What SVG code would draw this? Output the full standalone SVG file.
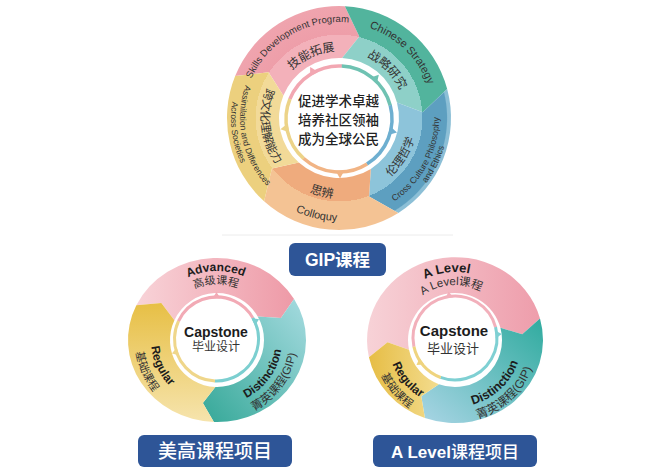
<svg xmlns="http://www.w3.org/2000/svg" width="661" height="473" viewBox="0 0 661 473">
<style>
.en{font-family:"Liberation Sans","Noto Sans CJK SC",sans-serif;fill:#333}
.cn{font-family:"Noto Sans CJK SC","Liberation Sans",sans-serif;fill:#333}
.b{font-weight:bold;fill:#1c1c1c}
.ctr{font-family:"Noto Sans CJK SC","Liberation Sans",sans-serif;font-weight:500;fill:#222;font-size:13.5px}
.ring{fill:none;stroke-width:3.5}
.ring2{fill:none;stroke-width:3}
.lbl{fill:#2e5597}
.lt{fill:#fff;font-family:"Liberation Sans","Noto Sans CJK SC",sans-serif;text-anchor:middle}
</style>
<defs>
<radialGradient id="gPink" gradientUnits="userSpaceOnUse" cx="339" cy="118" r="112"><stop offset="0" stop-color="#f3b1ba"/><stop offset="0.745" stop-color="#f3b1ba"/><stop offset="0.745" stop-color="#ee9ea9"/><stop offset="1" stop-color="#efa4ae"/></radialGradient>
<radialGradient id="gTeal" gradientUnits="userSpaceOnUse" cx="339" cy="118" r="112"><stop offset="0" stop-color="#8ed0c8"/><stop offset="0.745" stop-color="#8ed0c8"/><stop offset="0.745" stop-color="#52b49d"/><stop offset="1" stop-color="#52b49d"/></radialGradient>
<radialGradient id="gBlue" gradientUnits="userSpaceOnUse" cx="339" cy="118" r="112"><stop offset="0" stop-color="#8dc4da"/><stop offset="0.745" stop-color="#8dc4da"/><stop offset="0.745" stop-color="#5d9fc0"/><stop offset="0.96" stop-color="#5d9fc0"/><stop offset="0.97" stop-color="#8cbfd6"/><stop offset="1" stop-color="#8cbfd6"/></radialGradient>
<radialGradient id="gOrange" gradientUnits="userSpaceOnUse" cx="339" cy="118" r="112"><stop offset="0" stop-color="#efab7d"/><stop offset="0.745" stop-color="#efab7d"/><stop offset="0.745" stop-color="#f4c394"/><stop offset="1" stop-color="#f4c394"/></radialGradient>
<radialGradient id="gYellow" gradientUnits="userSpaceOnUse" cx="339" cy="118" r="112"><stop offset="0" stop-color="#f2da98"/><stop offset="0.745" stop-color="#f2da98"/><stop offset="0.745" stop-color="#ecd07e"/><stop offset="1" stop-color="#ecd07e"/></radialGradient>
<linearGradient id="mPink" x1="0" y1="0" x2="1" y2="0"><stop offset="0" stop-color="#f8d3d8"/><stop offset="1" stop-color="#ee9aa7"/></linearGradient>
<linearGradient id="mTeal" x1="0" y1="1" x2="1" y2="0"><stop offset="0" stop-color="#35a898"/><stop offset="1" stop-color="#a6dbe0"/></linearGradient>
<linearGradient id="mYellow" x1="0" y1="0" x2="0" y2="1"><stop offset="0" stop-color="#e7bf45"/><stop offset="1" stop-color="#f6e4ad"/></linearGradient>
<linearGradient id="aPink" x1="0" y1="0" x2="1" y2="0"><stop offset="0" stop-color="#f7d2d7"/><stop offset="1" stop-color="#ee9dab"/></linearGradient>
<linearGradient id="aTeal" x1="0" y1="1" x2="1" y2="0"><stop offset="0" stop-color="#a9d5e5"/><stop offset="1" stop-color="#30ab9f"/></linearGradient>
<linearGradient id="aYellow" x1="0" y1="0" x2="1" y2="0"><stop offset="0" stop-color="#e6bd45"/><stop offset="1" stop-color="#f3dc8e"/></linearGradient>
<path id="tp1" d="M 248.79,150.83 A 96 96 0 0 1 412.54,56.29"/>
<path id="tp2" d="M 283.16,41.14 A 95 95 0 0 1 417.76,171.12"/>
<path id="tp3" d="M 308.10,213.11 A 100 100 0 0 0 400.57,39.20"/>
<path id="tp4" d="M 308.96,222.78 A 109 109 0 0 0 403.07,29.82"/>
<path id="tp5" d="M 301.91,26.21 A 99 99 0 0 0 342.46,216.94"/>
<path id="tp6" d="M 305.63,15.28 A 108 108 0 0 0 335.23,225.94"/>
<path id="tp7" d="M 236.14,112.61 A 103 103 0 0 0 433.81,158.24"/>
<path id="tp8" d="M 273.99,134.21 A 67 67 0 0 1 394.54,80.53"/>
<path id="tp9" d="M 300.57,63.11 A 67 67 0 0 1 393.89,156.43"/>
<path id="tp10" d="M 309.78,190.32 A 78 78 0 0 0 391.19,60.04"/>
<path id="tp11" d="M 259.11,113.82 A 80 80 0 0 0 412.64,149.26"/>
<path id="tp12" d="M 316.19,43.41 A 78 78 0 0 0 334.92,195.89"/>
<path id="pb1" d="M 148.85,329.21 A 69 69 0 0 1 284.73,326.83"/>
<path id="pb2" d="M 161.69,331.24 A 56 56 0 0 1 271.97,329.32"/>
<path id="pb3" d="M 179.14,285.93 A 66 66 0 0 0 234.08,403.75"/>
<path id="pb4" d="M 171.15,272.02 A 82 82 0 0 0 236.84,419.56"/>
<path id="pb5" d="M 188.50,398.42 A 65 65 0 0 0 263.75,294.84"/>
<path id="pb6" d="M 181.93,411.90 A 80 80 0 0 0 274.54,284.42"/>
<path id="pc1" d="M 387.10,336.44 A 68 68 0 0 1 520.03,320.12"/>
<path id="pc2" d="M 400.30,334.25 A 55 55 0 0 1 508.37,326.70"/>
<path id="pc3" d="M 403.68,296.93 A 67 67 0 0 0 488.50,398.02"/>
<path id="pc4" d="M 391.28,288.40 A 82 82 0 0 0 497.23,410.29"/>
<path id="pc5" d="M 414.68,393.51 A 67 67 0 0 0 511.19,303.51"/>
<path id="pc6" d="M 405.65,405.49 A 82 82 0 0 0 523.77,295.34"/>
</defs>
<rect width="661" height="473" fill="#fff"/>
<line x1="222" y1="235" x2="453" y2="235" stroke="#ececec" stroke-width="1"/>

<g id="node-gip-circle">
<path fill="url(#gPink)" d="M 235.15,76.04 A 112 112 0 0 1 344.86,6.16 L 359.32,36.49 L 342.14,58.08 A 60 60 0 0 0 283.37,95.52 L 268.55,72.25 Z"/>
<path fill="url(#gTeal)" d="M 344.86,6.16 A 112 112 0 0 1 447.18,89.01 L 422.80,112.14 L 396.95,102.47 A 60 60 0 0 0 342.14,58.08 L 359.32,36.49 Z"/>
<path fill="url(#gBlue)" d="M 447.18,89.01 A 112 112 0 0 1 398.35,212.98 L 369.11,196.42 L 370.79,168.88 A 60 60 0 0 0 396.95,102.47 L 422.80,112.14 Z"/>
<path fill="url(#gOrange)" d="M 398.35,212.98 A 112 112 0 0 1 264.06,201.23 L 271.92,168.55 L 298.85,162.59 A 60 60 0 0 0 370.79,168.88 L 369.11,196.42 Z"/>
<path fill="url(#gYellow)" d="M 264.06,201.23 A 112 112 0 0 1 235.15,76.04 L 268.55,72.25 L 283.37,95.52 A 60 60 0 0 0 298.85,162.59 L 271.92,168.55 Z"/>
<circle cx="339" cy="119" r="53" class="ring" stroke="#f2a7b2" stroke-dasharray="65.68 333" transform="rotate(202 339 119)"/>
<circle cx="339" cy="119" r="53" class="ring" stroke="#6fc2b2" stroke-dasharray="66.6 333" transform="rotate(-87 339 119)"/>
<circle cx="339" cy="119" r="53" class="ring" stroke="#6eafd0" stroke-dasharray="67.53 333" transform="rotate(-15 339 119)"/>
<circle cx="339" cy="119" r="53" class="ring" stroke="#f1b485" stroke-dasharray="68.45 333" transform="rotate(58 339 119)"/>
<circle cx="339" cy="119" r="53" class="ring" stroke="#ecd388" stroke-dasharray="64.75 333" transform="rotate(132 339 119)"/>
<polygon points="334.5,67.5 343.5,67.5 339,59.5" fill="#f2a7b2" transform="rotate(331 339 119)"/>
<polygon points="334.5,67.5 343.5,67.5 339,59.5" fill="#6fc2b2" transform="rotate(42 339 119)"/>
<polygon points="334.5,67.5 343.5,67.5 339,59.5" fill="#6eafd0" transform="rotate(103 339 119)"/>
<polygon points="334.5,67.5 343.5,67.5 339,59.5" fill="#f1b485" transform="rotate(179 339 119)"/>
<polygon points="334.5,67.5 343.5,67.5 339,59.5" fill="#ecd388" transform="rotate(260 339 119)"/>
<text class="en" font-size="9.5" text-anchor="middle"><textPath href="#tp1" startOffset="50%">Skills Development Program</textPath></text>
<text class="en" font-size="11" text-anchor="middle"><textPath href="#tp2" startOffset="50%">Chinese Strategy</textPath></text>
<text class="en" font-size="8.8" text-anchor="middle"><textPath href="#tp3" startOffset="50%">Cross Culture Philosophy</textPath></text>
<text class="en" font-size="8.8" text-anchor="middle"><textPath href="#tp4" startOffset="50%">and Ethics</textPath></text>
<text class="en" font-size="8.6" text-anchor="middle"><textPath href="#tp5" startOffset="50%">Assimilation and Differences</textPath></text>
<text class="en" font-size="8.6" text-anchor="middle"><textPath href="#tp6" startOffset="50%">Across Societies</textPath></text>
<text class="en" font-size="11" text-anchor="middle"><textPath href="#tp7" startOffset="50%">Colloquy</textPath></text>
<text class="cn" font-size="12" text-anchor="middle"><textPath href="#tp8" startOffset="50%">技能拓展</textPath></text>
<text class="cn" font-size="12" text-anchor="middle"><textPath href="#tp9" startOffset="50%">战略研究</textPath></text>
<text class="cn" font-size="11.5" text-anchor="middle"><textPath href="#tp10" startOffset="50%">伦理哲学</textPath></text>
<text class="cn" font-size="12" text-anchor="middle"><textPath href="#tp11" startOffset="50%">思辨</textPath></text>
<text class="cn" font-size="11.5" text-anchor="middle"><textPath href="#tp12" startOffset="50%">跨文化理解能力</textPath></text>
<text class="ctr" x="338.5" y="106" text-anchor="middle">促进学术卓越</text>
<text class="ctr" x="338.5" y="125" text-anchor="middle">培养社区领袖</text>
<text class="ctr" x="338.5" y="144" text-anchor="middle">成为全球公民</text>
</g>

<g id="node-gip-label">
<rect x="289" y="243" width="97" height="33" rx="6" class="lbl"/>
<text class="lt" x="337.5" y="265.5" font-size="17.5" font-weight="bold">GIP课程</text>
</g>

<g id="node-us-circle">
<path fill="url(#mPink)" d="M 136.34,305.35 A 89 82 0 0 1 294.07,299.00 L 280.90,317.94 L 257.70,316.50 A 47 47 0 0 0 174.40,320.14 L 161.30,303.00 Z"/>
<path fill="url(#mTeal)" d="M 294.07,299.00 A 89 82 0 0 1 213.89,421.95 L 202.86,403.09 L 215.36,386.97 A 47 47 0 0 0 257.70,316.50 L 280.90,317.94 Z"/>
<path fill="url(#mYellow)" d="M 213.89,421.95 A 89 82 0 0 1 136.34,305.35 L 161.30,303.00 L 174.40,320.14 A 47 47 0 0 0 215.36,386.97 L 202.86,403.09 Z"/>
<circle cx="216.5" cy="339" r="42" class="ring2" stroke="#f2aab5" stroke-dasharray="91.63 264" transform="rotate(205 216.5 339)"/>
<circle cx="216.5" cy="339" r="42" class="ring2" stroke="#7ccfd0" stroke-dasharray="89.43 264" transform="rotate(-30 216.5 339)"/>
<circle cx="216.5" cy="339" r="42" class="ring2" stroke="#efd68a" stroke-dasharray="82.83 264" transform="rotate(92 216.5 339)"/>
<polygon points="212.5,298.5 220.5,298.5 216.5,292" fill="#f2aab5" transform="rotate(0 216.5 339)"/>
<polygon points="212.5,298.5 220.5,298.5 216.5,292" fill="#7ccfd0" transform="rotate(65 216.5 339)"/>
<polygon points="212.5,298.5 220.5,298.5 216.5,292" fill="#efd68a" transform="rotate(252 216.5 339)"/>
<text class="en b" font-size="12" text-anchor="middle"><textPath href="#pb1" startOffset="50%">Advanced</textPath></text>
<text class="cn" font-size="11" text-anchor="middle"><textPath href="#pb2" startOffset="50%">高级课程</textPath></text>
<text class="en b" font-size="12" text-anchor="middle"><textPath href="#pb3" startOffset="50%">Regular</textPath></text>
<text class="cn" font-size="11" text-anchor="middle"><textPath href="#pb4" startOffset="50%">基础课程</textPath></text>
<text class="en b" font-size="12" text-anchor="middle"><textPath href="#pb5" startOffset="50%">Distinction</textPath></text>
<text class="en" font-size="11.5" text-anchor="middle"><textPath href="#pb6" startOffset="50%">菁英课程(GIP)</textPath></text>
<text class="en b" x="216" y="337" font-size="14" text-anchor="middle">Capstone</text>
<text class="cn" x="216" y="351" font-size="12" fill="#222" text-anchor="middle">毕业设计</text>
</g>

<g id="node-us-label">
<rect x="138" y="435" width="154" height="32" rx="6" class="lbl"/>
<text class="lt" x="215" y="458" font-size="19" font-weight="500">美高课程项目</text>
</g>

<g id="node-alevel-circle">
<path fill="url(#aPink)" d="M 368.93,357.26 A 88 83 0 0 1 540.00,318.52 L 522.24,334.33 L 500.40,327.84 A 47 47 0 0 0 409.03,349.77 L 387.54,342.27 Z"/>
<path fill="url(#aTeal)" d="M 540.00,318.52 A 88 83 0 0 1 424.90,418.00 L 421.25,396.29 L 438.93,384.17 A 47 47 0 0 0 500.40,327.84 L 522.24,334.33 Z"/>
<path fill="url(#aYellow)" d="M 424.90,418.00 A 88 83 0 0 1 368.93,357.26 L 387.54,342.27 L 409.03,349.77 A 47 47 0 0 0 438.93,384.17 L 421.25,396.29 Z"/>
<circle cx="455" cy="338" r="42" class="ring2" stroke="#f2b0bb" stroke-dasharray="129.74 264" transform="rotate(168 455 338)"/>
<circle cx="455" cy="338" r="42" class="ring2" stroke="#7fd0d3" stroke-dasharray="91.63 264" transform="rotate(-15 455 338)"/>
<circle cx="455" cy="338" r="42" class="ring2" stroke="#efd47f" stroke-dasharray="42.51 264" transform="rotate(110 455 338)"/>
<polygon points="451,297.5 459,297.5 455,291" fill="#f2b0bb" transform="rotate(352 455 338)"/>
<polygon points="451,297.5 459,297.5 455,291" fill="#7fd0d3" transform="rotate(85 455 338)"/>
<polygon points="451,297.5 459,297.5 455,291" fill="#efd47f" transform="rotate(235 455 338)"/>
<text class="en b" font-size="13" text-anchor="middle"><textPath href="#pc1" startOffset="50%">A Level</textPath></text>
<text class="en" font-size="11.5" text-anchor="middle"><textPath href="#pc2" startOffset="50%">A Level课程</textPath></text>
<text class="en b" font-size="12" text-anchor="middle"><textPath href="#pc3" startOffset="50%">Regular</textPath></text>
<text class="cn" font-size="11" text-anchor="middle"><textPath href="#pc4" startOffset="50%">基础课程</textPath></text>
<text class="en b" font-size="12.5" text-anchor="middle"><textPath href="#pc5" startOffset="50%">Distinction</textPath></text>
<text class="en" font-size="12" text-anchor="middle"><textPath href="#pc6" startOffset="50%">菁英课程(GIP)</textPath></text>
<text class="en b" x="454" y="335.5" font-size="15" text-anchor="middle">Capstone</text>
<text class="cn" x="453" y="352.5" font-size="13" fill="#222" text-anchor="middle">毕业设计</text>
</g>

<g id="node-alevel-label">
<rect x="373" y="435" width="164" height="32" rx="6" class="lbl"/>
<text class="lt" x="455" y="458" font-size="17"><tspan font-weight="bold">A Level</tspan><tspan font-weight="500">课程项目</tspan></text>
</g>

<g id="connectors"/>
</svg>
